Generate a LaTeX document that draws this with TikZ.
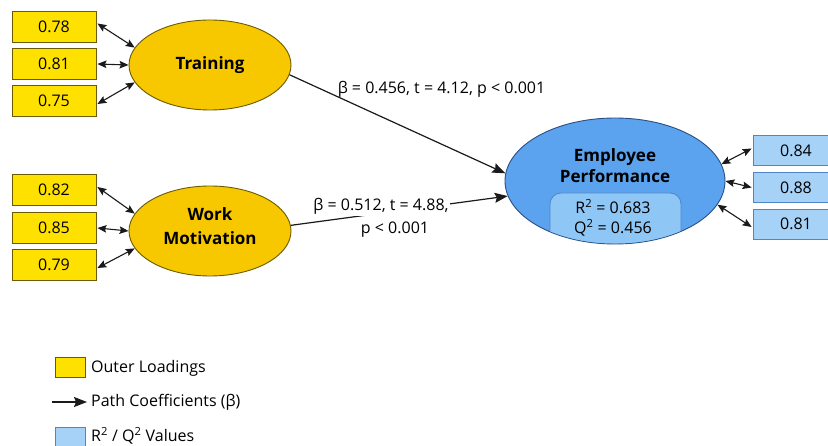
\documentclass[tikz,border=0pt]{standalone}
\usepackage{fontspec}
\setmainfont{Open Sans}
\usetikzlibrary{shapes.geometric,arrows.meta}
\definecolor{ylwE}{HTML}{F7C800}
\definecolor{ylwB}{HTML}{FFE100}
\definecolor{ylwD}{HTML}{6B5A00}
\definecolor{bluE}{HTML}{5BA3EE}
\definecolor{bluB}{HTML}{A6D2F7}
\definecolor{bluI}{HTML}{8EC6F6}
\definecolor{bluD}{HTML}{2B4F86}
\definecolor{bluM}{HTML}{4F86C6}
\definecolor{ink}{HTML}{1A1A1A}
\begin{document}
\begin{tikzpicture}[x=1pt,y=-1pt,
  lat/.style={ellipse, draw=ylwD, fill=ylwE, line width=0.9pt, minimum width=162pt, minimum height=90pt, inner sep=0pt},
  lattxt/.style={font=\fontsize{17}{24}\selectfont\bfseries, align=center},
  ybox/.style={rectangle, draw=ylwD, fill=ylwB, line width=0.8pt, minimum width=84pt, minimum height=31pt, inner sep=0pt, font=\fontsize{16}{19}\selectfont},
  bbox/.style={rectangle, draw=bluM, fill=bluB, line width=0.8pt, minimum width=86pt, minimum height=30pt, inner sep=0pt, font=\fontsize{16}{19}\selectfont},
  dbl/.style={{Stealth[length=9pt,width=7.5pt,inset=1.5pt]}-{Stealth[length=9pt,width=7.5pt,inset=1.5pt]}, line width=1.1pt, color=ink},
  path/.style={-{Stealth[length=13pt,width=10pt,inset=2pt]}, line width=1.2pt, color=ink},
  lbl/.style={font=\fontsize{16}{19}\selectfont, inner sep=1pt}
]
\useasboundingbox (0,0) rectangle (828,446);
\fill[white] (0,0) rectangle (828,446);

% latent variables
\node[lat] (T) at (210,65) {};
\node[lattxt] (Tt) at (210,65) {Training};
\node[lat] (W) at (210,231) {};
\node[lattxt] (Wt) at (210,226) {Work\\Motivation};
\node[ellipse, draw=bluD, fill=bluE, line width=0.9pt, minimum width=220pt, minimum height=126pt, inner sep=0pt] (EP) at (615,181) {};
\begin{scope}
  \clip (615,181) ellipse [x radius=109.5pt, y radius=62.5pt];
  \draw[fill=bluI, draw=bluM, line width=0.8pt, rounded corners=11pt] (550,193) rectangle (681,250);
\end{scope}
\node[font=\fontsize{17}{21}\selectfont\bfseries, align=center] (EPt) at (615,166) {Employee\\Performance};
\node[font=\fontsize{16}{20}\selectfont, align=center] (EPr) at (613,218) {R\textsuperscript{2} = 0.683\\Q\textsuperscript{2} = 0.456};

% indicators
\node[ybox] (t1) at (54,26.5) {0.78};
\node[ybox] (t2) at (54,64) {0.81};
\node[ybox] (t3) at (54,101) {0.75};
\node[ybox] (w1) at (54,190) {0.82};
\node[ybox] (w2) at (54,228) {0.85};
\node[ybox] (w3) at (54,265) {0.79};
\node[bbox] (e1) at (796,150.5) {0.84};
\node[bbox] (e2) at (796,187.5) {0.88};
\node[bbox] (e3) at (796,224) {0.81};

\draw[dbl] ([xshift=1pt,yshift=3pt]t1.east) -- (T.167);
\draw[dbl] ([xshift=1pt]t2.east) -- (T.180);
\draw[dbl] ([xshift=1pt,yshift=-3pt]t3.east) -- (T.193);
\draw[dbl] ([xshift=1pt,yshift=3pt]w1.east) -- (W.167);
\draw[dbl] ([xshift=1pt]w2.east) -- (W.180);
\draw[dbl] ([xshift=1pt,yshift=-3pt]w3.east) -- (W.193);
\draw[dbl] (EP.9) -- ([xshift=-1pt,yshift=2pt]e1.west);
\draw[dbl] (EP.0) -- ([xshift=-1pt]e2.west);
\draw[dbl] (EP.-13) -- ([xshift=-1pt,yshift=-3pt]e3.west);

% structural paths
\draw[path] (T.-7) -- (EP.176);
\draw[path] (W.4) -- (EP.188);
\node[lbl, anchor=base] (l1) at (441.5,94) {β = 0.456, t = 4.12, p < 0.001};
\node[lbl, anchor=base, fill=white] (l2a) at (381,211) {β = 0.512, t = 4.88,};
\node[lbl, anchor=base, fill=white] (l2b) at (395,234) {p < 0.001};

% legend
\draw[fill=ylwB, draw=ylwD, line width=0.8pt] (55,357) rectangle (85,377);
\node[lbl, anchor=west] (lg1) at (90,368) {Outer Loadings};
\coordinate (la) at (52,402);
\coordinate (lb) at (87,402);
\draw[path] (la) -- (lb);
\node[lbl, anchor=west] (lg2) at (90,402) {Path Coefficients (β)};
\draw[fill=bluB, draw=bluM, line width=0.8pt] (55,427) rectangle (85,447);
\node[lbl, anchor=west] (lg3) at (90,436) {R\textsuperscript{2} / Q\textsuperscript{2} Values};
\end{tikzpicture}
\end{document}
